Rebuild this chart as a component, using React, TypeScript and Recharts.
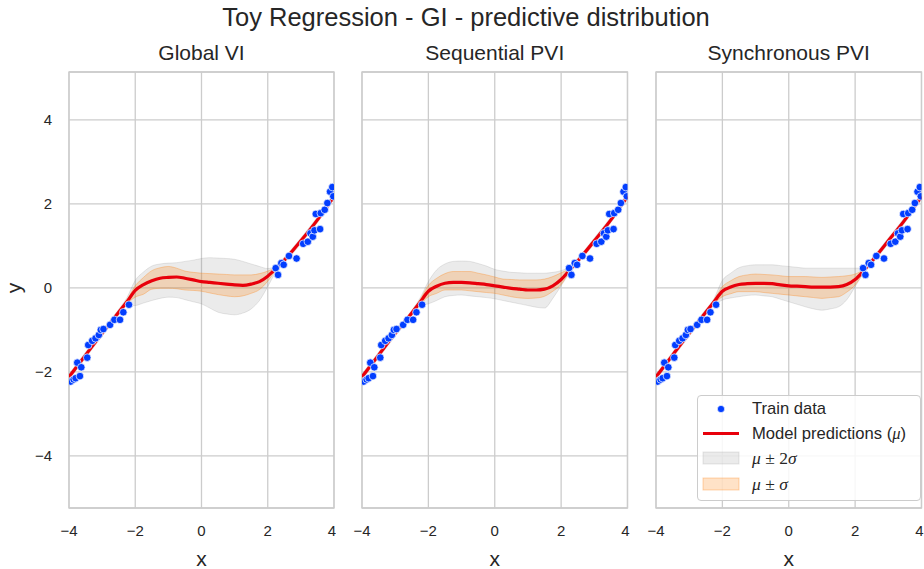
import React from "react";
import {
  ComposedChart,
  XAxis,
  YAxis,
  CartesianGrid,
  Area,
  Line,
  Scatter,
  ReferenceArea,
} from "recharts";

// ---- data ----
const xGrid = [-4, -3.5, -3, -2.5, -2.25, -2, -1.75, -1.5, -1.25, -1, -0.75, -0.5, -0.25, 0, 0.25, 0.5, 0.75, 1, 1.25, 1.5, 1.75, 2, 2.25, 2.5, 3, 3.5, 4];

const trainX = [-3.95, -3.86, -3.8, -3.75, -3.67, -3.63, -3.45, -3.42, -3.3, -3.2, -3.1, -3.04, -2.96, -2.76, -2.63, -2.46, -2.36, -2.19, 2.24, 2.31, 2.41, 2.48, 2.64, 2.87, 3.07, 3.21, 3.29, 3.36, 3.41, 3.45, 3.58, 3.6, 3.72, 3.8, 3.88, 3.95, 3.98];
const trainY = [-2.23, -2.18, -2.15, -1.78, -2.1, -1.89, -1.66, -1.36, -1.26, -1.2, -1.12, -1.0, -0.98, -0.88, -0.76, -0.76, -0.58, -0.4, 0.47, 0.31, 0.59, 0.55, 0.76, 0.7, 1.05, 1.1, 1.3, 1.22, 1.37, 1.76, 1.4, 1.78, 1.86, 2.02, 2.29, 2.4, 2.18];

// Global VI
const globalMean = [-2.12, -1.6, -1.08, -0.58, -0.33, -0.06, 0.08, 0.17, 0.23, 0.25, 0.26, 0.23, 0.19, 0.15, 0.13, 0.11, 0.09, 0.07, 0.06, 0.09, 0.15, 0.28, 0.46, 0.66, 1.12, 1.62, 2.18];
const globalHi2 = [-2.05, -1.53, -1.01, -0.51, -0.23, 0.18, 0.38, 0.52, 0.57, 0.59, 0.6, 0.63, 0.66, 0.7, 0.72, 0.71, 0.7, 0.68, 0.63, 0.57, 0.51, 0.46, 0.54, 0.73, 1.19, 1.69, 2.25];
const globalLo2 = [-2.19, -1.67, -1.15, -0.65, -0.43, -0.42, -0.36, -0.3, -0.25, -0.22, -0.23, -0.28, -0.33, -0.38, -0.48, -0.58, -0.62, -0.64, -0.6, -0.5, -0.3, 0.03, 0.38, 0.59, 1.05, 1.55, 2.11];
const globalHi1 = [-2.085, -1.565, -1.045, -0.545, -0.28, 0.05, 0.25, 0.41, 0.48, 0.51, 0.47, 0.4, 0.37, 0.35, 0.34, 0.33, 0.32, 0.31, 0.31, 0.31, 0.34, 0.4, 0.5, 0.695, 1.155, 1.655, 2.215];
const globalLo1 = [-2.155, -1.635, -1.115, -0.615, -0.38, -0.22, -0.15, -0.03, -0.01, -0.01, -0.02, -0.05, -0.06, -0.08, -0.12, -0.16, -0.19, -0.21, -0.19, -0.13, -0.04, 0.16, 0.42, 0.625, 1.085, 1.585, 2.145];

// Sequential PVI
const seqMean = [-2.12, -1.6, -1.08, -0.6, -0.34, -0.08, 0.04, 0.11, 0.13, 0.13, 0.12, 0.1, 0.08, 0.05, 0.02, -0.01, -0.03, -0.05, -0.05, -0.03, 0.05, 0.2, 0.42, 0.64, 1.12, 1.62, 2.18];
const seqHi2 = [-2.05, -1.53, -1.01, -0.53, -0.24, 0.15, 0.43, 0.57, 0.63, 0.64, 0.63, 0.58, 0.52, 0.44, 0.4, 0.37, 0.36, 0.35, 0.35, 0.35, 0.37, 0.41, 0.5, 0.71, 1.19, 1.69, 2.25];
const seqLo2 = [-2.19, -1.67, -1.15, -0.67, -0.44, -0.38, -0.3, -0.21, -0.18, -0.17, -0.19, -0.21, -0.23, -0.26, -0.3, -0.34, -0.38, -0.42, -0.46, -0.48, -0.25, 0.05, 0.34, 0.57, 1.05, 1.55, 2.11];
const seqHi1 = [-2.085, -1.565, -1.045, -0.565, -0.28, 0.06, 0.23, 0.34, 0.39, 0.39, 0.39, 0.35, 0.31, 0.26, 0.21, 0.2, 0.19, 0.19, 0.19, 0.21, 0.27, 0.36, 0.46, 0.675, 1.155, 1.655, 2.215];
const seqLo1 = [-2.155, -1.635, -1.115, -0.635, -0.4, -0.21, -0.13, -0.05, -0.05, -0.05, -0.07, -0.09, -0.11, -0.13, -0.17, -0.21, -0.24, -0.25, -0.24, -0.2, -0.08, 0.08, 0.38, 0.605, 1.085, 1.585, 2.145];

// Synchronous PVI
const syncMean = [-2.12, -1.6, -1.08, -0.58, -0.33, -0.08, 0.02, 0.08, 0.1, 0.11, 0.11, 0.1, 0.07, 0.05, 0.04, 0.03, 0.02, 0.02, 0.02, 0.03, 0.08, 0.2, 0.4, 0.63, 1.12, 1.62, 2.18];
const syncHi2 = [-2.05, -1.53, -1.01, -0.51, -0.25, 0.18, 0.35, 0.48, 0.53, 0.55, 0.55, 0.55, 0.53, 0.51, 0.49, 0.47, 0.47, 0.47, 0.47, 0.47, 0.47, 0.47, 0.48, 0.7, 1.19, 1.69, 2.25];
const syncLo2 = [-2.19, -1.67, -1.15, -0.65, -0.42, -0.29, -0.24, -0.21, -0.18, -0.17, -0.19, -0.21, -0.27, -0.33, -0.39, -0.45, -0.5, -0.53, -0.5, -0.45, -0.28, 0.03, 0.34, 0.56, 1.05, 1.55, 2.11];
const syncHi1 = [-2.085, -1.565, -1.045, -0.545, -0.28, 0.03, 0.17, 0.27, 0.31, 0.33, 0.32, 0.31, 0.29, 0.27, 0.27, 0.27, 0.26, 0.25, 0.26, 0.27, 0.29, 0.33, 0.44, 0.665, 1.155, 1.655, 2.215];
const syncLo1 = [-2.155, -1.635, -1.115, -0.615, -0.38, -0.21, -0.14, -0.09, -0.09, -0.09, -0.11, -0.13, -0.15, -0.17, -0.19, -0.21, -0.23, -0.25, -0.23, -0.21, -0.1, 0.07, 0.36, 0.595, 1.085, 1.585, 2.145];

const xTicks = [-4, -2, 0, 2, 4];
const yTicks = [-4, -2, 0, 2, 4];
const xDomain: [number, number] = [-4, 4];
const yDomain: [number, number] = [-5.24, 5.14];

const suptitle = "Toy Regression - GI - predictive distribution";

// ---- style ----
const FONT = "'Liberation Sans', Arial, sans-serif";
const TEXT = "#262626";
const GRID = "#cccccc";
const BLUE = "#023eff";
const RED = "#e8000b";
const ORANGE = "#ff7c00";
const GRAY = "#808080";

const PLOT_TOP = 72;
const PLOT_BOTTOM = 508;
const H = 569;

const fmt = (v: number) => (v < 0 ? "\u2212" + Math.abs(v) : String(v));

const trainData = trainX.map((x, i) => ({ x, y: trainY[i] }));

function buildRows(mean: number[], lo1: number[], hi1: number[], lo2: number[], hi2: number[]) {
  return xGrid.map((x, i) => ({
    x,
    mean: mean[i],
    band1: [lo1[i], hi1[i]],
    band2: [lo2[i], hi2[i]],
  }));
}

const panels = [
  { title: "Global VI", rows: buildRows(globalMean, globalLo1, globalHi1, globalLo2, globalHi2), plotLeft: 69, plotRight: 334 },
  { title: "Sequential PVI", rows: buildRows(seqMean, seqLo1, seqHi1, seqLo2, seqHi2), plotLeft: 362, plotRight: 627.5 },
  { title: "Synchronous PVI", rows: buildRows(syncMean, syncLo1, syncHi1, syncLo2, syncHi2), plotLeft: 656, plotRight: 921.5 },
];

const XTick = (props: any) => {
  const { x, payload } = props;
  return (
    <text x={x} y={536} textAnchor="middle" fontSize={15} fill={TEXT} fontFamily={FONT}>
      {fmt(payload.value)}
    </text>
  );
};

const YTick = (props: any) => {
  const { y, payload } = props;
  return (
    <text x={52} y={y + 5} textAnchor="end" fontSize={15} fill={TEXT} fontFamily={FONT}>
      {fmt(payload.value)}
    </text>
  );
};

const NoTick = () => <g />;

const Dot = (props: any) => {
  const { cx, cy } = props;
  if (cx == null || cy == null) return null;
  return <circle cx={cx} cy={cy} r={3.8} fill={BLUE} stroke="#ffffff" strokeWidth={0.7} />;
};

function Panel({ p, index }: { p: (typeof panels)[number]; index: number }) {
  const axisW = index === 0 ? p.plotLeft : 20;
  const left = p.plotLeft - axisW;
  const width = axisW + (p.plotRight - p.plotLeft) + 2;
  return (
    <div style={{ position: "absolute", left, top: 0 }}>
      <ComposedChart
        width={width}
        height={H}
        data={p.rows}
        margin={{ top: PLOT_TOP, bottom: 0, left: 0, right: 2 }}
      >
        <CartesianGrid stroke={GRID} strokeWidth={1.3} />
        <XAxis
          type="number"
          dataKey="x"
          domain={xDomain}
          ticks={xTicks}
          allowDataOverflow
          height={H - PLOT_BOTTOM}
          axisLine={false}
          tickLine={false}
          tick={<XTick />}
        />
        <YAxis
          type="number"
          domain={yDomain}
          ticks={yTicks}
          allowDataOverflow
          width={axisW}
          axisLine={false}
          tickLine={false}
          tick={index === 0 ? <YTick /> : <NoTick />}
        />
        <ReferenceArea x1={-4} x2={4} y1={yDomain[0]} y2={yDomain[1]} fill="none" stroke={GRID} strokeWidth={1.3} />
        <Scatter data={trainData} dataKey="y" shape={<Dot />} isAnimationActive={false} />
        <Area
          dataKey="band2"
          type="monotone"
          fill={GRAY}
          fillOpacity={0.16}
          stroke={GRAY}
          strokeOpacity={0.18}
          strokeWidth={1}
          isAnimationActive={false}
          dot={false}
          activeDot={false}
        />
        <Area
          dataKey="band1"
          type="monotone"
          fill={ORANGE}
          fillOpacity={0.22}
          stroke={ORANGE}
          strokeOpacity={0.3}
          strokeWidth={1}
          isAnimationActive={false}
          dot={false}
          activeDot={false}
        />
        <Line
          dataKey="mean"
          type="monotone"
          stroke={RED}
          strokeWidth={3.2}
          dot={false}
          activeDot={false}
          isAnimationActive={false}
        />
      </ComposedChart>
    </div>
  );
}

const mathStyle: React.CSSProperties = { fontFamily: "'Liberation Serif', 'DejaVu Serif', serif", fontStyle: "italic" };
const mathUp: React.CSSProperties = { fontFamily: "'Liberation Serif', 'DejaVu Serif', serif" };

function LegendBox() {
  const row: React.CSSProperties = { position: "absolute", left: 54, fontSize: 16.6, color: TEXT, fontFamily: FONT, whiteSpace: "nowrap", lineHeight: "18px" };
  return (
    <div
      style={{
        position: "absolute",
        left: 697,
        top: 395,
        width: 224,
        height: 106,
        boxSizing: "border-box",
        border: "1px solid #cccccc",
        borderRadius: 4,
        background: "rgba(255,255,255,0.85)",
      }}
    >
      <svg width={224} height={106} style={{ position: "absolute", left: -1, top: -1 }}>
        <circle cx={24} cy={14} r={3.6} fill={BLUE} stroke="#fff" strokeWidth={0.6} />
        <line x1={6} x2={42} y1={38.5} y2={38.5} stroke={RED} strokeWidth={3.2} />
        <rect x={6} y={57} width={36} height={12} fill={GRAY} fillOpacity={0.16} stroke={GRAY} strokeOpacity={0.18} />
        <rect x={6} y={83} width={36} height={12} fill={ORANGE} fillOpacity={0.22} stroke={ORANGE} strokeOpacity={0.3} />
      </svg>
      <div style={{ ...row, top: 4 }}>Train data</div>
      <div style={{ ...row, top: 29 }}>
        Model predictions (<span style={mathStyle}>μ</span>)
      </div>
      <div style={{ ...row, top: 53, fontSize: 17.5 }}>
        <span style={mathStyle}>μ</span>
        <span style={mathUp}> ± 2</span>
        <span style={mathStyle}>σ</span>
      </div>
      <div style={{ ...row, top: 79, fontSize: 17.5 }}>
        <span style={mathStyle}>μ</span>
        <span style={mathUp}> ± </span>
        <span style={mathStyle}>σ</span>
      </div>
    </div>
  );
}

export default function App() {
  return (
    <div style={{ position: "absolute", left: 0, top: 0, width: 924, height: 569, background: "#ffffff", overflow: "hidden" }}>
      {panels.map((p, i) => (
        <Panel key={p.title} p={p} index={i} />
      ))}
      <svg width={924} height={569} style={{ position: "absolute", left: 0, top: 0, pointerEvents: "none" }}>
        <text x={466} y={26} textAnchor="middle" fontSize={25.5} fill={TEXT} fontFamily={FONT}>
          {suptitle}
        </text>
        {panels.map((p) => (
          <text key={p.title} x={(p.plotLeft + p.plotRight) / 2} y={59.5} textAnchor="middle" fontSize={21} fill={TEXT} fontFamily={FONT}>
            {p.title}
          </text>
        ))}
        {panels.map((p) => (
          <text key={p.title + "x"} x={(p.plotLeft + p.plotRight) / 2} y={566} textAnchor="middle" fontSize={21} fill={TEXT} fontFamily={FONT}>
            x
          </text>
        ))}
        <text x={21} y={288} textAnchor="middle" fontSize={21} fill={TEXT} fontFamily={FONT} transform="rotate(-90 21 288)">
          y
        </text>
      </svg>
      <LegendBox />
    </div>
  );
}
